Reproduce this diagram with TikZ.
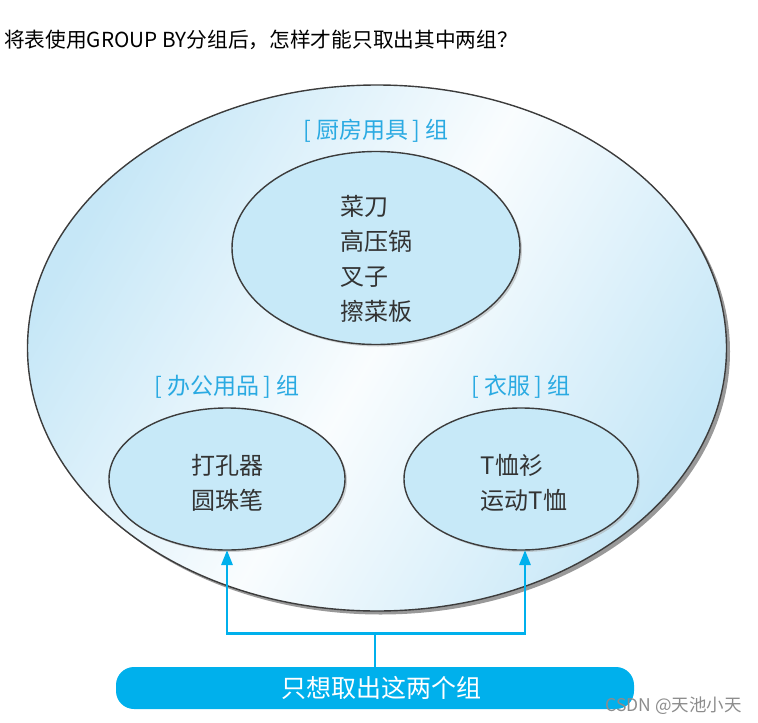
\documentclass[tikz,border=0pt]{standalone}
\usepackage{fontspec}
\setmainfont{Noto Sans CJK SC}
\usetikzlibrary{positioning,shapes.geometric,shadows,arrows.meta}

\definecolor{grpblue}{HTML}{2AAAE2}
\definecolor{boxblue}{HTML}{00B0EC}
\definecolor{innerfill}{HTML}{C7E9F8}
\definecolor{outerfill}{HTML}{C6E7F7}
\definecolor{rimgray}{HTML}{3C3C3C}
\definecolor{itemgray}{HTML}{333333}

\tikzset{
  groupset/.style={ellipse, draw=rimgray, line width=1.4pt, inner sep=0, outer sep=0},
  innerset/.style={groupset, fill=innerfill, drop shadow={shadow xshift=2pt, shadow yshift=-2pt, fill=black!35}},
  grouplabel/.style={text=grpblue, inner sep=0, font=\fontsize{23}{26}\selectfont},
  itemtext/.style={text=itemgray, align=left, inner sep=0, font=\fontsize{24}{35}\selectfont},
  pickline/.style={draw=boxblue, line width=2.8pt},
}

\begin{document}
\begin{tikzpicture}[x=1pt, y=-1pt]
        \useasboundingbox (0,0) rectangle (758,723);

        \draw node[anchor=west, inner sep=0, font=\fontsize{20.7}{23}\selectfont] (question) at (4,40) {将表使用GROUP BY分组后，怎样才能只取出其中两组？};

        % shadow under the big set
        \fill[black!40] (380.5,351.5) ellipse [x radius=349.5, y radius=263];
        \draw node[groupset, minimum width=699pt, minimum height=526pt, left color=outerfill, right color=outerfill, middle color=white!90!outerfill, shading angle=60] (goods) at (377,348) {};

        \draw node[innerset, minimum width=288pt, minimum height=193pt] (kitchen) at (376,248) {};
        \draw node[innerset, minimum width=236pt, minimum height=142pt] (office) at (227,479) {};
        \draw node[innerset, minimum width=234pt, minimum height=142pt] (clothes) at (521,479) {};

        \draw node[itemtext] (kitchenitems) at ([yshift=-11pt]kitchen.center) {菜刀\\高压锅\\叉子\\擦菜板};
        \draw node[itemtext] (officeitems) at ([yshift=-4pt]office.center) {打孔器\\圆珠笔};
        \draw node[itemtext] (clothesitems) at ([xshift=3pt, yshift=-4pt]clothes.center) {T恤衫\\运动T恤};

        \draw node[grouplabel, above=9pt of kitchen] (kitchenlbl) {[\hspace{5pt}厨房用具\hspace{4pt}]\hspace{5pt}组};
        \draw node[grouplabel, above=9pt of office] (officelbl) {[\hspace{5pt}办公用品\hspace{4pt}]\hspace{5pt}组};
        \draw node[grouplabel, above=9pt of clothes] (clotheslbl) {[\hspace{5pt}衣服\hspace{4pt}]\hspace{5pt}组};

        \draw node[fill=boxblue, rounded corners=18pt, minimum width=518pt, minimum height=42pt, inner sep=0] (wish) at (375,688) {};
        \draw node[text=white, inner sep=0, font=\fontsize{25}{27}\selectfont] (wishtext) at ([xshift=6pt]wish.center) {只想取出这两个组};

        \draw[pickline] (wish.north) -- ++(0,-33) coordinate (split);
        \draw[pickline, -{Triangle[width=11pt, length=15pt]}] (split) -| (office.south);
        \draw[pickline, -{Triangle[width=11pt, length=15pt]}] (split) -| ([xshift=4pt]clothes.south);

        \draw node[anchor=east, inner sep=0, text=black!45, font=\fontsize{17.5}{19}\selectfont] (mark) at (742,706) {CSDN @天池小天};
      \end{tikzpicture}
\end{document}
